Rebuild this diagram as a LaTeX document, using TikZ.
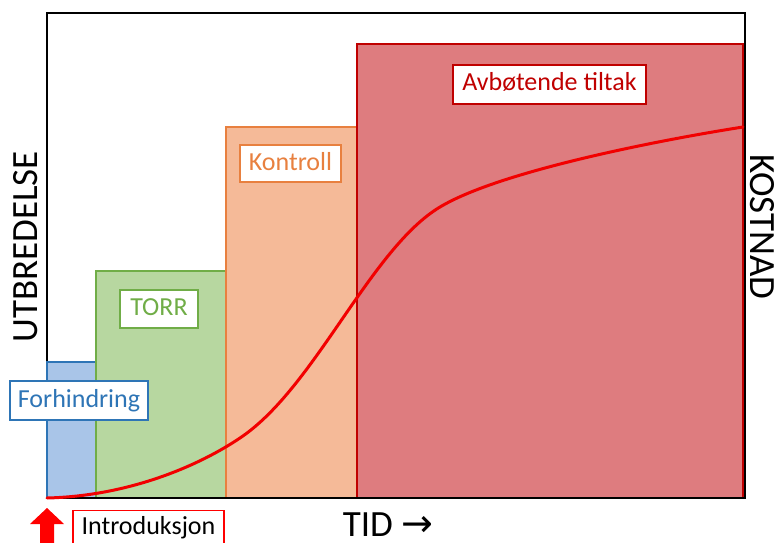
\documentclass[tikz,border=0pt]{standalone}
\usepackage{fontspec}
\setmainfont{Carlito}
\newfontfamily\symfont{DejaVu Sans}
\definecolor{bluefill}{HTML}{A9C5E8}
\definecolor{blueline}{HTML}{2E75B6}
\definecolor{greenfill}{HTML}{B7D7A0}
\definecolor{greenline}{HTML}{70AD47}
\definecolor{orangefill}{HTML}{F5BA98}
\definecolor{orangeline}{HTML}{E8803F}
\definecolor{redfill}{HTML}{DE7C7F}
\definecolor{redline}{HTML}{C00000}
\definecolor{curvered}{HTML}{F20000}
\tikzset{
  phase/.style={line width=1.6pt},
  tag/.style={draw, fill=white, line width=1.4pt, font=\fontsize{26}{28}\selectfont,
    inner sep=0pt, text height=18pt, text depth=5pt},
  axislabel/.style={font=\fontsize{37}{40}\selectfont, inner sep=0pt}
}
\begin{document}
\begin{tikzpicture}[x=1pt,y=-1pt]
\useasboundingbox (0,0) rectangle (780,543);
\clip (0,0) rectangle (780,543);
% outer frame
\draw[line width=1.6pt, black] (47,13) rectangle (745,498);
% phase areas
\draw[phase, fill=bluefill, draw=blueline] (47,362) rectangle (96,498);
\draw[phase, fill=greenfill, draw=greenline] (96,271) rectangle (226,498);
\draw[phase, fill=orangefill, draw=orangeline] (226,127) rectangle (357,498);
\draw[phase, fill=redfill, draw=redline] (357,44) rectangle (743,498);
% axis baseline
\draw[line width=1.8pt, black] (47,498) -- (745,498);
\draw[line width=1.6pt, black] (745,13) -- (745,498);
% cost curve
\draw[curvered, line width=3pt, line cap=round]
  (47,498) .. controls (130,496) and (200,465) .. (240,438)
           .. controls (315,388) and (370,249) .. (440,207)
           .. controls (500,171) and (660,140) .. (743,127);
% phase labels
\node[tag, draw=blueline, text=blueline, minimum width=138pt, minimum height=39pt]
  (forh) at (79,400.5) {Forhindring};
\node[tag, draw=greenline, text=greenline, minimum width=78pt, minimum height=38pt]
  (torr) at (159,309) {TORR};
\node[tag, draw=orangeline, text=orangeline, minimum width=101pt, minimum height=37pt]
  (kontr) at (290.5,163.5) {Kontroll};
\node[tag, draw=redline, text=redline, minimum width=193pt, minimum height=39pt]
  (avb) at (549.5,84.5) {Avbøtende tiltak};
% introduction marker
\node[tag, draw=red, text=black, minimum width=151pt, minimum height=40pt, anchor=north]
  (intro) at (148.5,510) {};
\node[font=\fontsize{26}{28}\selectfont, inner sep=0pt, text height=18pt, text depth=5pt]
  (introtext) at (148.5,528) {Introduksjon};
\fill[red] (40,545) -- (40,524) -- (30,524) -- (47,508) -- (64,524) -- (54,524) -- (54,545) -- cycle;
% axis titles
\node[axislabel, anchor=base] (tid) at (388,536) {TID {\symfont\fontsize{38}{40}\selectfont →}};
\node[axislabel, rotate=90] (utbr) at (26,247) {UTBREDELSE};
\node[axislabel, rotate=-90] (kost) at (762,227) {KOSTNAD};
\end{tikzpicture}
\end{document}
